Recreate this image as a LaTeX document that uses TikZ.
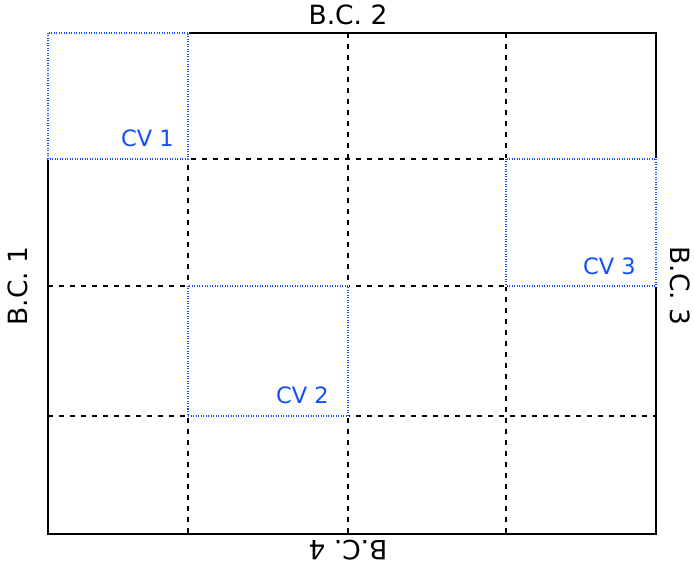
\documentclass[tikz,border=0pt]{standalone}
\usepackage{fontspec}
\setmainfont{DejaVu Sans}
\definecolor{cvblue}{RGB}{20,80,245}
\begin{document}
\begin{tikzpicture}[x=1pt,y=-1pt,
  frame/.style={draw=black,line width=1.4pt},
  gridline/.style={draw=black,line width=1.1pt,dash pattern=on 5pt off 6pt},
  cvbox/.style={draw=cvblue,line width=1.2pt,dash pattern=on 1pt off 1.5pt,fill=none},
  cvmask/.style={draw=white,line width=2pt},
  bclabel/.style={font=\fontsize{26.5}{30}\selectfont,inner sep=0pt},
  cvlabel/.style={font=\fontsize{22.5}{26}\selectfont,text=cvblue,inner sep=0pt,anchor=east}]
\useasboundingbox (0,0) rectangle (694,569);
% corners and grid coordinates
\coordinate (TL) at (48,33);
\coordinate (BR) at (656,534);
\coordinate (v1t) at (188,33);  \coordinate (v1b) at (188,534);
\coordinate (v2t) at (348,33);  \coordinate (v2b) at (348,534);
\coordinate (v3t) at (506,33);  \coordinate (v3b) at (506,534);
\coordinate (h1l) at (48,159);  \coordinate (h1r) at (656,159);
\coordinate (h2l) at (48,286);  \coordinate (h2r) at (656,286);
\coordinate (h3l) at (48,416);  \coordinate (h3r) at (656,416);
% dashed grid
\draw[gridline] (v1t) -- (v1b);
\draw[gridline] (v2t) -- (v2b);
\draw[gridline] (v3t) -- (v3b);
\draw[gridline] (h1l) -- (h1r);
\draw[gridline] (h2l) -- (h2r);
\draw[gridline] (h3l) -- (h3r);
% frame
\draw[frame] (TL) rectangle (BR);
% control volumes
\coordinate (cv1a) at (48,33);   \coordinate (cv1b) at (188,159);
\coordinate (cv2a) at (188,286); \coordinate (cv2b) at (348,416);
\coordinate (cv3a) at (506,159); \coordinate (cv3b) at (656,286);
\draw[cvmask] (cv1a) rectangle (cv1b);
\draw[cvmask] (cv2a) rectangle (cv2b);
\draw[cvmask] (cv3a) rectangle (cv3b);
\draw[cvbox] (cv1a) rectangle (cv1b);
\draw[cvbox] (cv2a) rectangle (cv2b);
\draw[cvbox] (cv3a) rectangle (cv3b);
\node[cvlabel] (cv1) at (174,138) {CV 1};
\node[cvlabel] (cv2) at (329,395) {CV 2};
\node[cvlabel] (cv3) at (636,266) {CV 3};
% boundary conditions
\node[bclabel] (bc2) at (348,15) {B.C. 2};
\node[bclabel,rotate=180] (bc4) at (348,550) {B.C. 4};
\node[bclabel,rotate=90] (bc1) at (18,286) {B.C. 1};
\node[bclabel,rotate=-90] (bc3) at (680,286) {B.C. 3};
\end{tikzpicture}
\end{document}
